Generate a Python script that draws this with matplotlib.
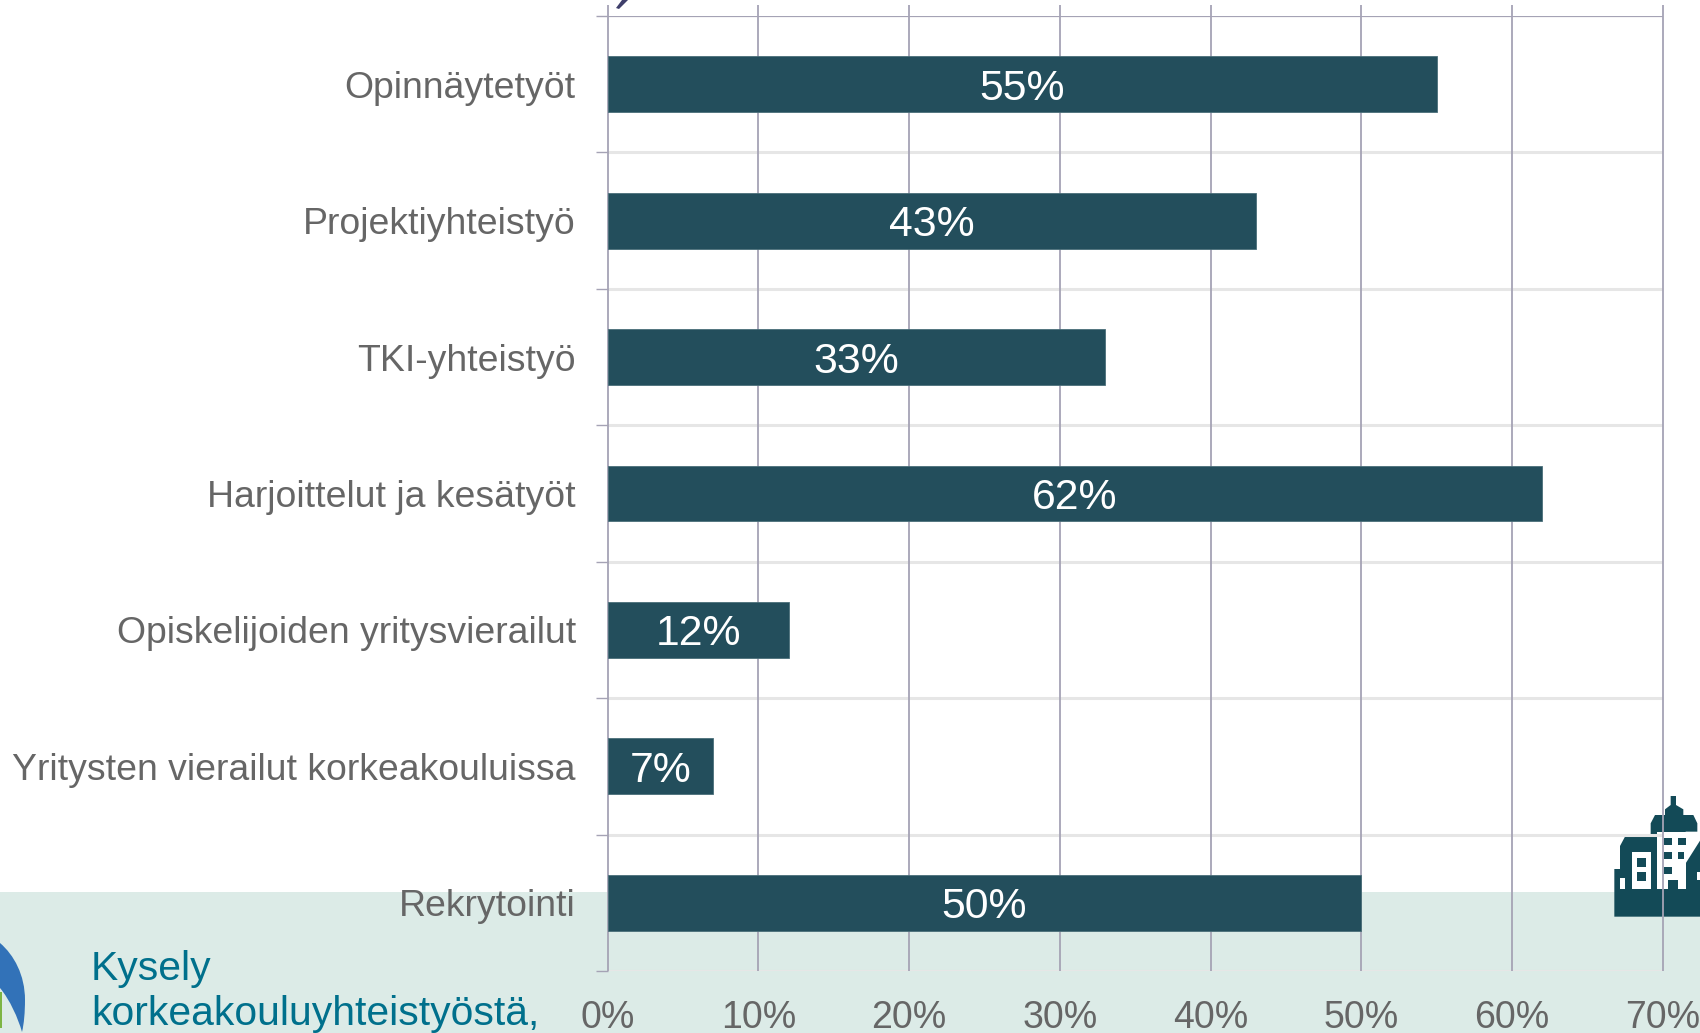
"""Yhteistyömuodot: vaakapalkit, taustalla vaalea kaista ja koristekuvat."""
import matplotlib.pyplot as plt
from matplotlib.patches import PathPatch, Polygon, Rectangle
from matplotlib.path import Path

plt.rcParams["font.family"] = ["Liberation Sans", "DejaVu Sans"]

categories = [
    "Opinnäytetyöt",
    "Projektiyhteistyö",
    "TKI-yhteistyö",
    "Harjoittelut ja kesätyöt",
    "Opiskelijoiden yritysvierailut",
    "Yritysten vierailut korkeakouluissa",
    "Rekrytointi",
]
values = [55, 43, 33, 62, 12, 7, 50]
x_ticks = [0, 10, 20, 30, 40, 50, 60, 70]
footer_lines = ["Kysely", "korkeakouluyhteistyöstä,"]

W, H = 1700, 1033
BAR = "#234E5C"
GREY = "#666666"
GRID_V = "#A5A3B5"
GRID_H = "#E6E6E6"
BAND = "#DCEBE7"
ICON = "#134A57"

fig = plt.figure(figsize=(W / 100, H / 100), dpi=100, facecolor="white")

# tausta: koordinaatit kuvan pikseleinä
bg = fig.add_axes([0, 0, 1, 1], zorder=0)
bg.set_xlim(0, W)
bg.set_ylim(H, 0)
bg.axis("off")
bg.add_patch(Rectangle((0, 892), W, H - 892, color=BAND, lw=0))

# logon kaari
bg.add_patch(Rectangle((0, 992), 2, 36, color="#7DB544", lw=0))
arc = Path(
    [(0, 943), (14, 955), (25, 975), (25, 1000), (25, 1012), (24, 1024), (22, 1032),
     (18, 1018), (10, 1000), (0, 988), (0, 943)],
    [Path.MOVETO, Path.CURVE4, Path.CURVE4, Path.CURVE4, Path.CURVE4, Path.CURVE4, Path.CURVE4,
     Path.CURVE4, Path.CURVE4, Path.CURVE4, Path.CLOSEPOLY],
)
bg.add_patch(PathPatch(arc, color="#3272B8", lw=0))

# nuolen kärki ylhäällä
bg.add_patch(Polygon([(616, 8), (622, 0), (628, 0), (619, 9)], color="#3F3F6B", lw=0))


def zx(x):
    return 1500 + x / 3


def zy(y):
    return 770 + y / 3


def zrect(x0, y0, x1, y1, color):
    bg.add_patch(Rectangle((zx(x0), zy(y0)), (x1 - x0) / 3, (y1 - y0) / 3, color=color, lw=0))


# rakennuskuvake
outline = [(343, 440), (343, 297), (360, 297), (360, 228), (375, 200), (452, 200), (452, 160),
           (465, 135), (495, 135), (495, 118), (512, 105), (512, 78), (528, 78), (528, 105),
           (550, 118), (550, 135), (580, 135), (592, 160), (592, 190), (600, 190), (600, 440)]
bg.add_patch(Polygon([(zx(x), zy(y)) for x, y in outline], color=ICON, lw=0))
zrect(360, 325, 376, 358, "white")
zrect(395, 245, 452, 358, "white")
zrect(410, 263, 437, 290, ICON)
zrect(410, 305, 437, 332, ICON)
zrect(472, 185, 557, 358, "white")
bg.add_patch(Polygon([(zx(x), zy(y)) for x, y in
                      [(557, 185), (600, 185), (600, 212), (557, 280)]], color="white", lw=0))
for x0, y0, x1, y1 in [(492, 203, 515, 225), (533, 203, 557, 225), (492, 245, 515, 267),
                       (533, 245, 553, 267), (492, 290, 515, 312), (505, 330, 535, 358)]:
    zrect(x0, y0, x1, y1, ICON)
zrect(592, 305, 600, 330, "white")

for text, y in zip(footer_lines, [980, 1025]):
    bg.text(91, y, text, fontsize=29.4, color="#00708C", ha="left", va="baseline")

# varsinainen kaavio
left, right, top, bottom = 607.7, 1662.7, 16, 971
ax = fig.add_axes([left / W, 1 - bottom / H, (right - left) / W, (bottom - top) / H], zorder=1)
ax.patch.set_alpha(0)

y_pos = list(range(len(categories)))
ax.barh(y_pos, values, height=0.41, color=BAR, edgecolor="#4A6E79", linewidth=0.6, zorder=3)
for y, v in zip(y_pos, values):
    ax.text(v / 2, y, f"{v}%", ha="center", va="center_baseline", color="white",
            fontsize=30.8, zorder=4)

ax.set_xlim(0, 70)
ax.set_ylim(6.5, -0.5)

for s in ax.spines.values():
    s.set_visible(False)

# pystyviivat jatkuvat hieman alueen yläpuolelle
ax.vlines(x_ticks, 6.5, -0.5 - 11 / 136.4, color=GRID_V, lw=1.3, clip_on=False, zorder=2)

separators = [i + 0.5 for i in range(-1, 7)]
ax.hlines(separators[1:], 0, 70, color=GRID_H, lw=2.2, zorder=1)
ax.hlines(separators[0], 0, 70, color=GRID_V, lw=1.6, zorder=1)

ax.set_yticks(y_pos)
ax.set_yticklabels(categories, fontsize=26.9, color=GREY, va="center_baseline")
ax.tick_params(axis="y", which="major", length=0, pad=23)
ax.set_yticks(separators, minor=True)
ax.tick_params(axis="y", which="minor", length=8.5, width=1.0, color=GRID_V)

ax.set_xticks(x_ticks)
ax.set_xticklabels([f"{t}%" for t in x_ticks], fontsize=27, color=GREY)
ax.tick_params(axis="x", length=0, pad=21)

fig.savefig("out.png", dpi=100)
